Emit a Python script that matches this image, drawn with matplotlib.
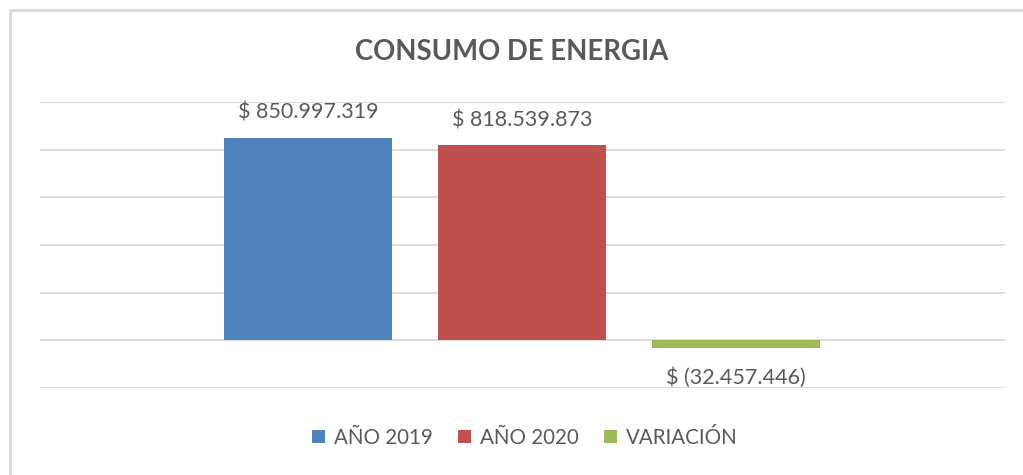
import matplotlib.pyplot as plt
from matplotlib.patches import Rectangle

plt.rcParams["font.family"] = ["Lato", "DejaVu Sans"]

series = ["AÑO 2019", "AÑO 2020", "VARIACIÓN"]
values = [850997319, 818539873, -32457446]
colors = ["#4f81bd", "#c0504d", "#9bbb59"]
yticks = [-200e6, 0, 200e6, 400e6, 600e6, 800e6, 1000e6]


def fmt_money(v):
    s = f"{abs(v):,.0f}".replace(",", ".")
    return f"$ ({s})" if v < 0 else f"$ {s}"


fig = plt.figure(figsize=[10.23, 4.75], dpi=100)
# chart frame (Excel style), right and bottom edges cut off
fig.patches.append(Rectangle((10 / 1023, -0.1), 1.2, (475 - 10) / 475 + 0.1,
                             transform=fig.transFigure, fill=False,
                             edgecolor="#d9d9d9", linewidth=2.0))

ax = fig.add_axes([40 / 1023, (475 - 388) / 475, 965 / 1023, 286 / 475])

xs = range(len(values))
bars = ax.bar(xs, values, width=0.785, color=colors, label=series, zorder=3)

for x, v in zip(xs, values):
    off = 18 if v >= 0 else -21.5
    ax.annotate(fmt_money(v), (x, v), xytext=(0, off), textcoords="offset points",
                ha="center", va="center", fontsize=15.5, color="#595959")

ax.set_xlim(-1.253, 3.257)
ax.set_ylim(yticks[0], yticks[-1])
ax.set_yticks(yticks)
ax.yaxis.grid(True, color="#d9d9d9", linewidth=1.3, zorder=0)
ax.set_xticks([])
ax.tick_params(left=False, labelleft=False)
ax.spines[["right", "top", "bottom", "left"]].set_visible(False)

fig.text(0.5, (475 - 52) / 475, "CONSUMO DE ENERGIA", ha="center", va="center",
         fontsize=19.8, fontweight="bold", color="#595959")

fig.legend(handles=bars.patches, labels=series, loc="center",
           bbox_to_anchor=(525 / 1023, (475 - 438) / 475), ncol=3, frameon=False,
           handlelength=0.6, handleheight=0.6, handletextpad=0.45,
           columnspacing=1.25, fontsize=14.8, labelcolor="#595959")

fig.savefig("out.png", dpi=100)
plt.close(fig)
